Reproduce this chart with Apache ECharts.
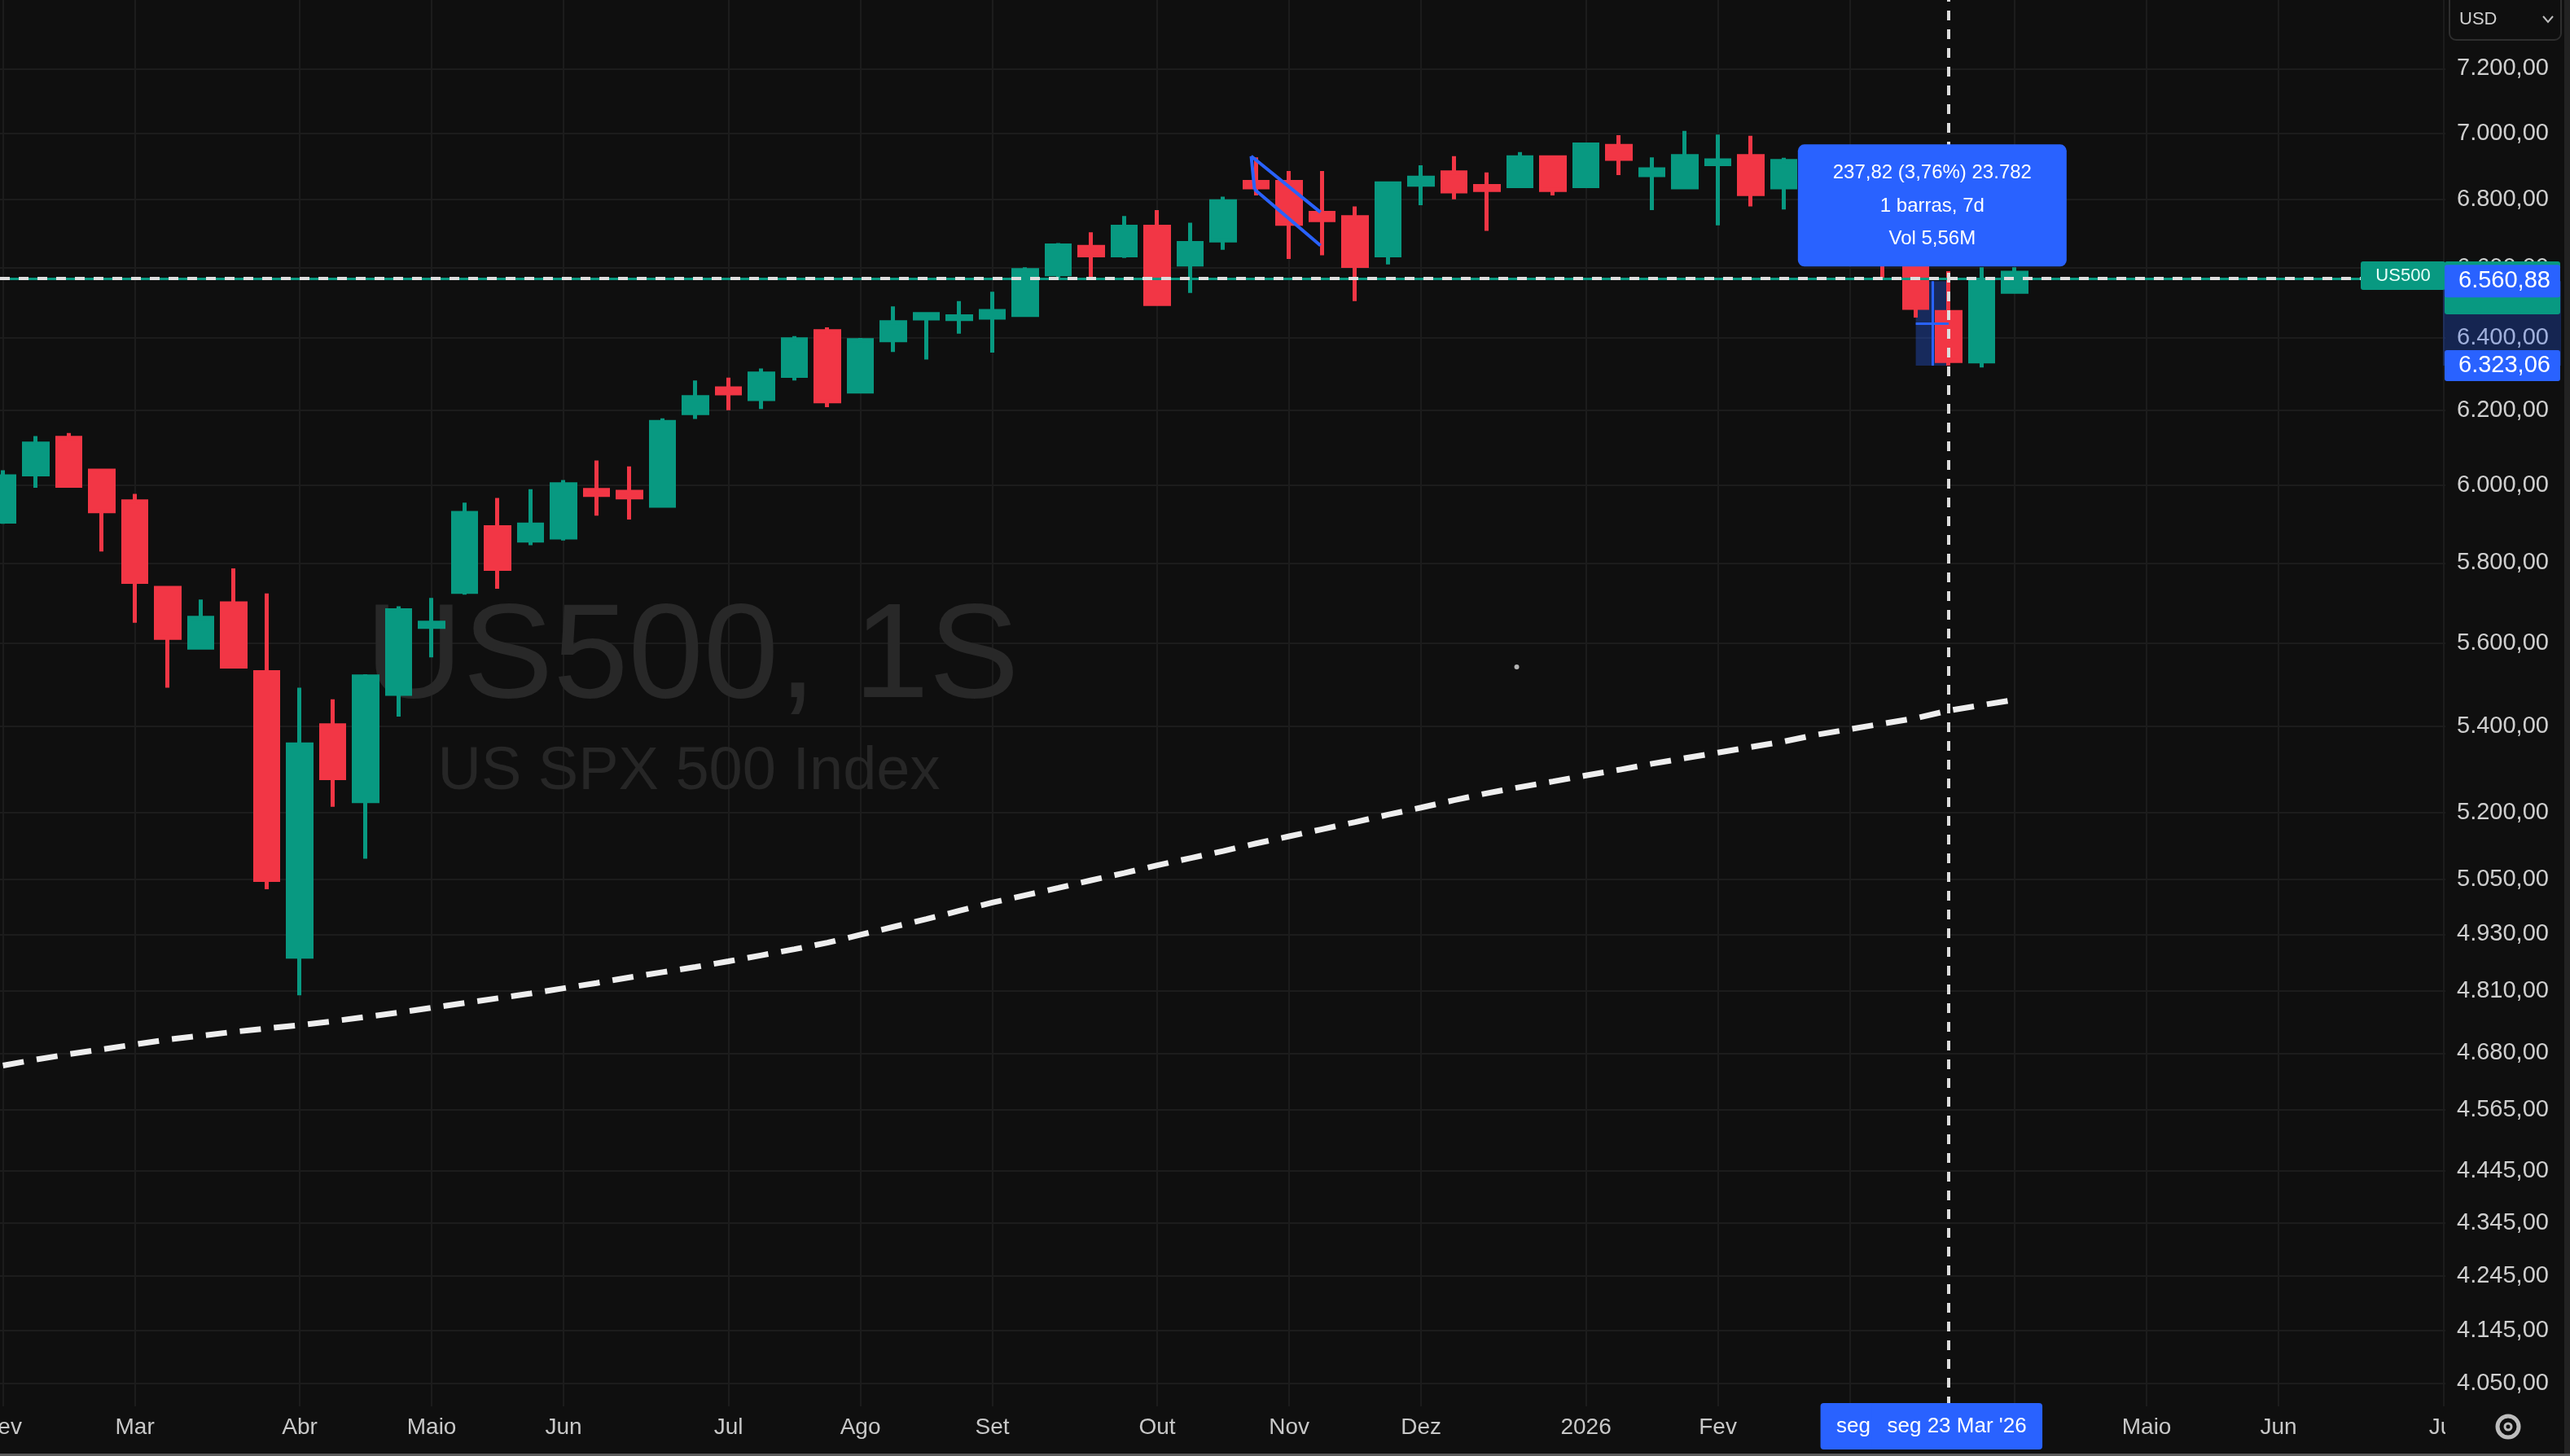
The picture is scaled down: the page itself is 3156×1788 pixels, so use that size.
<!DOCTYPE html>
<html>
<head>
<meta charset="utf-8">
<title>US500, 1S</title>
<script src="https://cdn.jsdelivr.net/npm/echarts@6/dist/echarts.min.js"></script>
<style>
  html, body { margin: 0; padding: 0; background: #0f0f0f; }
  #chart { width: 3156px; height: 1788px; }
</style>
</head>
<body>
<div id="chart"></div>
<script>
// weekly bars, US500 (1S = 1 semana)
var weeks = [
  '2025-02-03', '2025-02-10', '2025-02-17', '2025-02-24', '2025-03-03', '2025-03-10', '2025-03-17', '2025-03-24',
  '2025-03-31', '2025-04-07', '2025-04-14', '2025-04-21', '2025-04-28', '2025-05-05', '2025-05-12', '2025-05-19',
  '2025-05-26', '2025-06-02', '2025-06-09', '2025-06-16', '2025-06-23', '2025-06-30', '2025-07-07', '2025-07-14',
  '2025-07-21', '2025-07-28', '2025-08-04', '2025-08-11', '2025-08-18', '2025-08-25', '2025-09-01', '2025-09-08',
  '2025-09-15', '2025-09-22', '2025-09-29', '2025-10-06', '2025-10-13', '2025-10-20', '2025-10-27', '2025-11-03',
  '2025-11-10', '2025-11-17', '2025-11-24', '2025-12-01', '2025-12-08', '2025-12-15', '2025-12-22', '2025-12-29',
  '2026-01-05', '2026-01-12', '2026-01-19', '2026-01-26', '2026-02-02', '2026-02-09', '2026-02-16', '2026-02-23',
  '2026-03-02', '2026-03-09', '2026-03-16', '2026-03-23', '2026-03-30', '2026-04-06'
];
var openPrices = [
  5906, 6029, 6126, 6039, 5958, 5737, 5589, 5698, 5529, 4882, 5402, 5226, 5477, 5640, 5727, 5891,
  5857, 5865, 5988, 5983, 5947, 6193, 6260, 6231, 6295, 6419, 6252, 6394, 6455, 6453, 6457, 6465,
  6581, 6660, 6636, 6719, 6609, 6679, 6852, 6852, 6760, 6747, 6636, 6844, 6881, 6840, 6840, 6926,
  6840, 6961, 6873, 6836, 6906, 6930, 6836, 6905, 6880, 6760, 6605, 6473, 6335, 6531
];
var highPrices = [
  6040, 6131, 6139, 6044, 5978, 5742, 5708, 5786, 5723, 5492, 5464, 5524, 5691, 5712, 5955, 5967,
  5990, 6014, 6066, 6050, 6179, 6282, 6290, 6315, 6405, 6430, 6400, 6489, 6472, 6504, 6531, 6601,
  6671, 6703, 6751, 6768, 6731, 6808, 6926, 6885, 6885, 6779, 6852, 6902, 6930, 6881, 6942, 6930,
  6971, 6994, 6926, 7007, 6996, 6992, 6925, 6950, 6920, 6800, 6680, 6590, 6601, 6601
];
var lowPrices = [
  5900, 5994, 5995, 5829, 5650, 5492, 5585, 5540, 5028, 4800, 5213, 5096, 5423, 5565, 5720, 5735,
  5845, 5857, 5921, 5911, 5944, 6177, 6201, 6204, 6282, 6209, 6247, 6361, 6340, 6412, 6359, 6461,
  6569, 6573, 6628, 6492, 6527, 6652, 6812, 6625, 6636, 6504, 6609, 6783, 6800, 6707, 6836, 6812,
  6836, 6873, 6768, 6832, 6723, 6779, 6770, 6830, 6700, 6570, 6457, 6323.06, 6318, 6527
];
var closePrices = [
  6024, 6111, 5999, 5933, 5752, 5613, 5662, 5543, 5049, 5357, 5279, 5519, 5681, 5650, 5928, 5785,
  5898, 6003, 5975, 5969, 6169, 6236, 6247, 6301, 6396, 6225, 6394, 6444, 6467, 6461, 6476, 6593,
  6664, 6636, 6719, 6496, 6671, 6794, 6836, 6728, 6739, 6605, 6848, 6865, 6824, 6828, 6926, 6828,
  6965, 6922, 6890, 6930, 6917, 6816, 6915, 6880, 6760, 6650, 6485, 6336, 6561, 6585
];
// dashed moving average
var maValues = [
  4655, 4667, 4678, 4688, 4698, 4708, 4716, 4724, 4731, 4738, 4746, 4755, 4764, 4774, 4784, 4794,
  4804, 4815, 4826, 4838, 4849, 4860, 4872, 4885, 4898, 4912, 4929, 4946, 4963, 4981, 4999, 5015,
  5031, 5048, 5064, 5081, 5097, 5113, 5130, 5146, 5162, 5178, 5195, 5211, 5228, 5244, 5258, 5271,
  5285, 5298, 5312, 5325, 5338, 5351, 5364, 5380, 5393, 5406, 5419, 5437, 5450, 5463
];
var priceTicks = [7200, 7000, 6800, 6600, 6400, 6200, 6000, 5800, 5600, 5400, 5200, 5050, 4930,
  4810, 4680, 4565, 4445, 4345, 4245, 4145, 4050];
// week number (1 = first bar) where each month label sits
var monthIndex = [1, 5, 10, 14, 18, 23, 27, 31, 36, 40, 44, 49, 53, 57, 62, 66, 70, 75];
var monthNames = ['Fev', 'Mar', 'Abr', 'Maio', 'Jun', 'Jul', 'Ago', 'Set', 'Out', 'Nov', 'Dez', '2026',
  'Fev', 'Mar', 'Abr', 'Maio', 'Jun', 'Jul'];

var lastPrice = 6585;
var crossWeek = 60;
var crossPrice = 6560.88;
var measureWeeks = [59, 60];
var measureLow = 6323.06;
var measureLines = ['237,82 (3,76%) 23.782', '1 barras, 7d', 'Vol 5,56M'];
var dateLabels = ["seg 16 Mar '26", "seg 23 Mar '26"];
// blue drawing near Nov 2025: [week, price] pairs
var drawSegments = [
  [[38.85, 6930], [40.95, 6762]],
  [[38.95, 6830], [40.95, 6664]],
  [[38.85, 6930], [38.95, 6830]]
];
var strayDot = [46.9, 5542];

var UP = '#089981', DOWN = '#f23645', BLUE = '#2962ff';
var FONT = '"Liberation Sans", Arial, sans-serif';
var ln = Math.log;

function fmtPrice(p) {
  var s = p.toFixed(2).split('.');
  return s[0].replace(/\B(?=(\d{3})+(?!\d))/g, '.') + ',' + s[1];
}
function nearestTick(v) {
  var p = Math.exp(v), best = priceTicks[0];
  priceTicks.forEach(function (t) { if (Math.abs(t - p) < Math.abs(best - p)) best = t; });
  return best;
}

var candleData = weeks.map(function (d, i) {
  return [i + 1, ln(openPrices[i]), ln(closePrices[i]), ln(lowPrices[i]), ln(highPrices[i])];
});
var maData = maValues.map(function (v, i) { return [i + 1, ln(v)]; });
var logTicks = priceTicks.map(function (t) { return ln(t); });

var chart = echarts.init(document.getElementById('chart'));

var crossStyle = { color: '#dedede', width: 4, type: [12, 11] };

var option = {
  backgroundColor: '#0f0f0f',
  animation: false,
  grid: { left: 0, right: 153, top: 0, bottom: 61, outerBoundsMode: 'none' },
  xAxis: {
    type: 'value',
    min: 0.911,
    max: 75.06,
    axisLine: { show: false },
    axisTick: { show: false, customValues: monthIndex },
    axisLabel: {
      customValues: monthIndex,
      formatter: function (v) { return monthNames[monthIndex.indexOf(Math.round(v))] || ''; },
      color: '#c8c8c8', fontSize: 28, fontFamily: FONT, margin: 12
    },
    splitLine: { show: true, lineStyle: { color: '#1c1c1c', width: 2 } }
  },
  yAxis: {
    type: 'value',
    position: 'right',
    min: ln(4010),
    max: ln(7420),
    axisLine: { show: false },
    axisTick: { show: false, customValues: logTicks },
    axisLabel: {
      customValues: logTicks,
      formatter: function (v) { return fmtPrice(nearestTick(v)); },
      color: '#cfcfcf', fontSize: 29, fontFamily: FONT, margin: 14
    },
    splitLine: { show: true, lineStyle: { color: '#1c1c1c', width: 2 } }
  },
  series: [
    {
      type: 'candlestick',
      name: 'US500',
      data: candleData,
      encode: { x: 0, y: [1, 2, 3, 4] },
      barWidth: 29,
      z: 2,
      itemStyle: {
        color: UP, color0: DOWN,
        borderColor: UP, borderColor0: DOWN, borderColorDoji: UP,
        borderWidth: 5
      },
      markArea: {
        silent: true,
        itemStyle: { color: 'rgba(41, 98, 255, 0.32)' },
        data: [[
          { xAxis: measureWeeks[0], yAxis: ln(measureLow) },
          { xAxis: measureWeeks[1], yAxis: ln(crossPrice) }
        ]]
      },
      markLine: {
        silent: true,
        symbol: ['none', 'none'],
        label: { show: false },
        data: [
          { yAxis: ln(lastPrice), lineStyle: { color: UP, width: 3, type: 'solid' } },
          { yAxis: ln(crossPrice), lineStyle: crossStyle },
          { xAxis: crossWeek, lineStyle: crossStyle }
        ]
      }
    },
    {
      type: 'line',
      name: 'MA',
      data: maData,
      symbol: 'none',
      z: 3,
      lineStyle: { color: '#eeeeee', width: 7, type: [26, 16] }
    },
    {
      type: 'lines',
      coordinateSystem: 'cartesian2d',
      z: 4,
      silent: true,
      lineStyle: { color: BLUE, width: 4, opacity: 1 },
      data: drawSegments.map(function (s) {
        return { coords: s.map(function (p) { return [p[0], ln(p[1])]; }) };
      })
    },
    {
      // measure tool arrows
      type: 'lines',
      coordinateSystem: 'cartesian2d',
      z: 4,
      silent: true,
      lineStyle: { color: BLUE, width: 3, opacity: 1 },
      data: [
        { coords: [[(measureWeeks[0] + measureWeeks[1]) / 2, ln(measureLow)], [(measureWeeks[0] + measureWeeks[1]) / 2, ln(crossPrice)]] },
        { coords: [[measureWeeks[0], (ln(measureLow) + ln(crossPrice)) / 2], [measureWeeks[1], (ln(measureLow) + ln(crossPrice)) / 2]] }
      ]
    },
    {
      type: 'scatter',
      data: [[strayDot[0], ln(strayDot[1])]],
      symbolSize: 6,
      itemStyle: { color: '#dddddd' },
      z: 3
    }
  ]
};

chart.setOption(option);

// overlays placed with the chart's own scales
function px(week, price) { return chart.convertToPixel({ gridIndex: 0 }, [week, ln(price)]); }
var plotRight = chart.getWidth() - 153;
var plotBottom = chart.getHeight() - 61;
var yCross = px(crossWeek, crossPrice)[1];
var yLow = px(crossWeek, measureLow)[1];
var yLast = px(crossWeek, lastPrice)[1];
var xA = px(measureWeeks[0], lastPrice)[0];
var xB = px(measureWeeks[1], lastPrice)[0];
var xMid = (xA + xB) / 2;

function txt(text, x, y, size, color, align, z) {
  var s = {
    text: text, x: x, y: y, fill: color,
    font: size + 'px ' + FONT,
    align: align, textAlign: align, verticalAlign: 'middle', textVerticalAlign: 'middle'
  };
  return { type: 'text', silent: true, z: z || 60, style: s };
}
function box(x, y, w, h, color, r, z) {
  return { type: 'rect', silent: true, z: z || 55, shape: { x: x, y: y, width: w, height: h, r: r || 0 }, style: { fill: color } };
}

var elements = [
  // watermark
  { type: 'text', silent: true, z: 0, style: { text: 'US500, 1S', x: 850, y: 810, fill: '#282828',
    font: '166px ' + FONT, align: 'center', textAlign: 'center', verticalAlign: 'middle', textVerticalAlign: 'middle' } },
  { type: 'text', silent: true, z: 0, style: { text: 'US SPX 500 Index', x: 846, y: 949, fill: '#262626',
    font: '74px ' + FONT, align: 'center', textAlign: 'center', verticalAlign: 'middle', textVerticalAlign: 'middle' } },

  // price axis: measure range band
  box(plotRight - 3, yCross, 145, yLow - yCross, 'rgba(41, 98, 255, 0.28)', 0, 50),
  // last price label + symbol tag
  box(plotRight - 1, yLast - 14, 142, 65, UP, 3, 52),
  box(plotRight - 104, yLast - 14, 104, 35, UP, 3, 52),
  txt('US500', plotRight - 52, yLast + 4, 22, '#e8fff8', 'center', 53),
  // measure end labels
  box(plotRight - 1, yCross - 20, 142, 40, BLUE, 3, 57),
  txt(fmtPrice(crossPrice), plotRight + 16, yCross, 29, '#ffffff', 'left', 58),
  box(plotRight - 1, yLow - 19, 142, 38, BLUE, 3, 57),
  txt(fmtPrice(measureLow), plotRight + 16, yLow, 29, '#ffffff', 'left', 58),

  // measure info box
  box(xMid - 165, yCross - 168, 330, 150, BLUE, 8, 57),
  txt(measureLines[0], xMid, yCross - 133, 24, '#ffffff', 'center', 58),
  txt(measureLines[1], xMid, yCross - 92, 24, '#ffffff', 'center', 58),
  txt(measureLines[2], xMid, yCross - 52, 24, '#ffffff', 'center', 58),

  // date labels on the time axis (second one drawn over the first)
  box(xA - 117, plotBottom - 4, 210, 57, BLUE, 4, 56),
  txt(dateLabels[0], xA - 12, plotBottom + 25, 26, '#ffffff', 'center', 57),
  box(xB - 95, plotBottom - 4, 210, 57, BLUE, 4, 58),
  txt(dateLabels[1], xB + 10, plotBottom + 25, 26, '#ffffff', 'center', 59),

  // bottom-right corner of the axis panel
  box(plotRight, plotBottom, 153, 61, '#0f0f0f', 0, 45),
  { type: 'circle', silent: true, z: 60, shape: { cx: 3080, cy: 1752, r: 13 }, style: { fill: 'none', stroke: '#bdbdbd', lineWidth: 5 } },
  { type: 'circle', silent: true, z: 60, shape: { cx: 3080, cy: 1752, r: 4 }, style: { fill: 'none', stroke: '#bdbdbd', lineWidth: 3 } },

  // currency selector
  { type: 'rect', silent: true, z: 60, shape: { x: 3008, y: -10, width: 137, height: 59, r: 8 }, style: { fill: '#0f0f0f', stroke: '#2e2e2e', lineWidth: 2 } },
  txt('USD', 3020, 24, 22, '#cfcfcf', 'left', 61),
  { type: 'polyline', silent: true, z: 61, shape: { points: [[3123, 20], [3129, 27], [3135, 20]] }, style: { fill: 'none', stroke: '#bdbdbd', lineWidth: 2 } },

  // frame
  box(3149, 0, 7, 1788, '#222222', 0, 62),
  box(0, 1785, 3156, 3, '#5a5a5a', 0, 62)
];

chart.setOption({ graphic: { elements: elements } });
</script>
</body>
</html>
